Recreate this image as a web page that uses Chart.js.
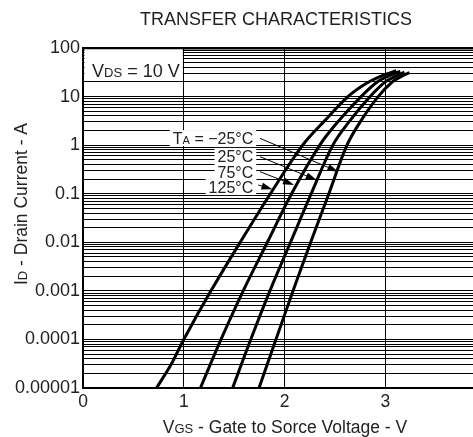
<!DOCTYPE html>
<html>
<head>
<meta charset="utf-8">
<script src="https://cdn.jsdelivr.net/npm/chart.js@4.4.0/dist/chart.umd.min.js"></script>
<style>
  html, body { margin: 0; padding: 0; background: #fff; overflow: hidden; }
  #wrap { position: relative; width: 500px; height: 437px; }
</style>
</head>
<body>
<div id="wrap"><canvas id="myChart" width="500" height="437"></canvas></div>
<script>
// ID vs VGS curves, one pair of arrays per ambient temperature
const vgs125 = [0.73, 0.88, 1.00, 1.27, 1.56, 1.86, 2.18, 2.40, 2.63, 2.81, 2.97, 3.11];
const id125 = [0.00001, 0.000032, 0.0001, 0.001, 0.01, 0.1, 1, 3.2, 10, 18.6, 27, 34];

const vgs75 = [1.165, 1.37, 1.59, 1.83, 2.07, 2.35, 2.54, 2.76, 2.92, 3.04, 3.15];
const id75 = [0.00001, 0.0001, 0.001, 0.01, 0.1, 1, 3.2, 10, 20, 27, 33];

const vgs25 = [1.485, 1.665, 1.855, 2.06, 2.265, 2.48, 2.65, 2.85, 3.00, 3.10, 3.19];
const id25 = [0.00001, 0.0001, 0.001, 0.01, 0.1, 1, 3.2, 10, 20, 26, 32];

const vgsM25 = [1.747, 1.915, 2.085, 2.26, 2.44, 2.62, 2.76, 2.93, 3.07, 3.16, 3.24];
const idM25 = [0.00001, 0.0001, 0.001, 0.01, 0.1, 1, 3.2, 10, 20, 26, 31];

// y axis decades and their labels
const yDecades = [0.00001, 0.0001, 0.001, 0.01, 0.1, 1, 10, 100];
const yTickLabels = ["0.00001", "0.0001", "0.001", "0.01", "0.1", "1", "10", "100"];
const xTickValues = [0, 1, 2, 3, 4];

const tempNames = ["−25°C", "25°C", "75°C", "125°C"];

const FONT = "'Liberation Sans', Arial, sans-serif";
const INK = "#222";

// every 1..9 multiple inside each decade gets a grid line
const yGrid = [];
yDecades.forEach((d, i) => {
  if (i === yDecades.length - 1) { yGrid.push(d); return; }
  for (let m = 1; m <= 9; m++) yGrid.push(d * m);
});

const series = [
  { name: "125°C", vgs: vgs125, id: id125 },
  { name: "75°C", vgs: vgs75, id: id75 },
  { name: "25°C", vgs: vgs25, id: id25 },
  { name: "−25°C", vgs: vgsM25, id: idM25 },
];

// label text (right edge) and arrows, in data units
const labelRight = 1.69;
const labelAt = [1.40, 0.60, 0.28, 0.137];
const arrowFrom = [[1.757, 1.38], [1.757, 0.578], [1.757, 0.284], [1.74, 0.151]];
const arrowTo = [[2.534, 0.284], [2.32, 0.191], [2.094, 0.151], [1.88, 0.123]];

function runsWidth(ctx, runs) {
  let w = 0;
  runs.forEach(r => { ctx.font = r.size + "px " + FONT; w += ctx.measureText(r.text).width; });
  return w;
}
function drawRuns(ctx, runs, x, y) {
  runs.forEach(r => {
    ctx.font = r.size + "px " + FONT;
    ctx.fillText(r.text, x, y);
    x += ctx.measureText(r.text).width;
  });
}

const notes = {
  id: "notes",
  beforeDatasetsDraw(chart) {
    const { ctx, scales: { x, y } } = chart;
    ctx.save();
    ctx.fillStyle = "#fff";
    // box behind V_DS note
    const l = x.getPixelForValue(0) + 1.5, r = x.getPixelForValue(1) - 1;
    const t = y.getPixelForValue(100) + 1.5, b = y.getPixelForValue(20) - 1;
    ctx.fillRect(l, t, r - l, b - t);
    ctx.restore();
  },
  afterDatasetsDraw(chart) {
    const { ctx, scales: { x, y } } = chart;
    ctx.save();
    ctx.textBaseline = "alphabetic";

    // V_DS = 10 V
    ctx.fillStyle = INK;
    drawRuns(ctx, [{ text: "V", size: 18 }, { text: "DS", size: 13 }, { text: " = 10 V", size: 18 }],
      x.getPixelForValue(0.09), y.getPixelForValue(35) + 6.5);

    // temperature labels
    tempNames.forEach((name, i) => {
      const runs = i === 0
        ? [{ text: "T", size: 16 }, { text: "A", size: 11 }, { text: " = " + name, size: 16 }]
        : [{ text: name, size: 16 }];
      const w = runsWidth(ctx, runs);
      const xr = x.getPixelForValue(labelRight);
      const yc = y.getPixelForValue(labelAt[i]);
      ctx.fillStyle = "#fff";
      ctx.fillRect(xr - w - 3, yc - 8, w + 6, 16);
      ctx.fillStyle = INK;
      drawRuns(ctx, runs, xr - w, yc + 6);

      // arrow
      const x0 = x.getPixelForValue(arrowFrom[i][0]), y0 = y.getPixelForValue(arrowFrom[i][1]);
      const x1 = x.getPixelForValue(arrowTo[i][0]), y1 = y.getPixelForValue(arrowTo[i][1]);
      const a = Math.atan2(y1 - y0, x1 - x0);
      ctx.strokeStyle = "#000";
      ctx.lineWidth = 1;
      ctx.beginPath();
      ctx.moveTo(x0, y0);
      ctx.lineTo(x1 - 9 * Math.cos(a), y1 - 9 * Math.sin(a));
      ctx.stroke();
      ctx.fillStyle = "#000";
      ctx.beginPath();
      ctx.moveTo(x1, y1);
      ctx.lineTo(x1 - 11 * Math.cos(a) + 3.5 * Math.sin(a), y1 - 11 * Math.sin(a) - 3.5 * Math.cos(a));
      ctx.lineTo(x1 - 11 * Math.cos(a) - 3.5 * Math.sin(a), y1 - 11 * Math.sin(a) + 3.5 * Math.cos(a));
      ctx.closePath();
      ctx.fill();
    });
    ctx.restore();
  },
  afterDraw(chart) {
    const { ctx } = chart;
    ctx.save();
    ctx.fillStyle = INK;
    ctx.textBaseline = "alphabetic";

    // chart title
    ctx.font = "18px " + FONT;
    ctx.textAlign = "center";
    ctx.fillText("TRANSFER CHARACTERISTICS", 276, 24.5);
    ctx.textAlign = "left";

    // x axis title
    const xRuns = [{ text: "V", size: 17.5 }, { text: "GS", size: 13 }, { text: " - Gate to Sorce Voltage - V", size: 17.5 }];
    const xw = runsWidth(ctx, xRuns);
    drawRuns(ctx, xRuns, 285 - xw / 2, 433);

    // y axis title
    const yRuns = [{ text: "I", size: 17.5 }, { text: "D", size: 13 }, { text: " - Drain Current - A", size: 17.5 }];
    const yw = runsWidth(ctx, yRuns);
    ctx.translate(27, 204);
    ctx.rotate(-Math.PI / 2);
    drawRuns(ctx, yRuns, -yw / 2, 0);
    ctx.restore();
  }
};

const config = {
  type: "line",
  data: {
    datasets: series.map(s => ({
      label: s.name,
      data: s.vgs.map((v, i) => ({ x: v, y: s.id[i] })),
      borderColor: "#000",
      borderWidth: 3,
      pointRadius: 0,
      fill: false,
      tension: 0.35,
    })),
  },
  options: {
    responsive: false,
    animation: false,
    layout: { padding: { top: 48, right: 14, bottom: 0, left: 0 } },
    plugins: {
      legend: { display: false },
      tooltip: { enabled: false },
    },
    scales: {
      x: {
        type: "linear",
        min: 0,
        max: 4,
        afterBuildTicks: s => { s.ticks = xTickValues.map(v => ({ value: v })); },
        afterFit: s => { s.height = 49; },
        grid: { color: "#000", lineWidth: 1, drawTicks: false },
        border: { color: "#000", width: 2 },
        ticks: { color: INK, font: { family: FONT, size: 17.5 }, padding: 4, maxRotation: 0 },
      },
      y: {
        type: "logarithmic",
        min: 0.00001,
        max: 100,
        afterBuildTicks: s => { s.ticks = yGrid.map(v => ({ value: v })); },
        afterFit: s => { s.width = 83; },
        grid: {
          color: "#000",
          lineWidth: c => (c.tick && c.tick.value === 100 ? 2.5 : 1),
          drawTicks: false,
        },
        border: { color: "#000", width: 2 },
        ticks: {
          autoSkip: false,
          color: INK,
          font: { family: FONT, size: 18 },
          padding: 3,
          callback: v => {
            const i = yDecades.findIndex(d => Math.abs(d - v) < d * 1e-6);
            return i >= 0 ? yTickLabels[i] : "";
          },
        },
      },
    },
  },
  plugins: [notes],
};

new Chart(document.getElementById("myChart"), config);
</script>
</body>
</html>
